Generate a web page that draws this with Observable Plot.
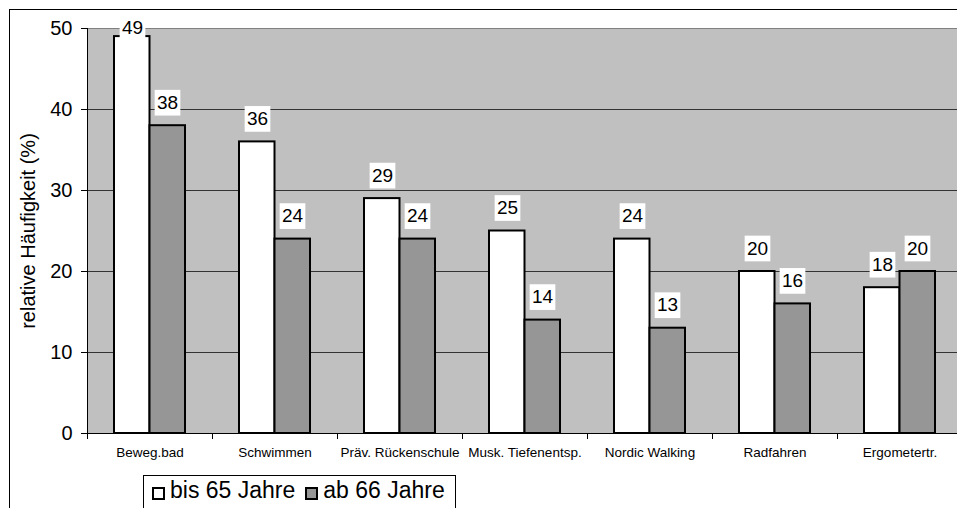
<!DOCTYPE html>
<html><head><meta charset="utf-8">
<script src="https://cdn.jsdelivr.net/npm/d3@7"></script>
<script src="https://cdn.jsdelivr.net/npm/@observablehq/plot@0.6"></script>
<style>
html,body{margin:0;padding:0;background:#fff}
body{width:957px;height:508px;overflow:hidden;position:relative;font-family:Arial,"Liberation Sans",sans-serif}
#border{position:absolute;left:9px;top:9px;width:1100px;height:700px;border:1px solid #000;box-sizing:border-box}
#chart{position:absolute;left:0;top:0}
#legend{position:absolute;left:143px;top:475px;height:60px;border:1px solid #000;background:#fff;box-sizing:border-box;
  font-size:23px;line-height:25px;padding:1.5px 10px 0 8px;white-space:nowrap;color:#000}
#legend .sw{display:inline-block;width:13px;height:13px;border:2px solid #000;box-sizing:border-box;vertical-align:-2px;margin-right:5px}
#legend .item + .item{margin-left:10px}
</style></head>
<body>
<div id="border"></div>
<div id="chart"></div>
<div id="legend"></div>
<script>
const categories = ["Beweg.bad","Schwimmen","Präv. Rückenschule","Musk. Tiefenentsp.","Nordic Walking","Radfahren","Ergometertr."];
const seriesNames = ["bis 65 Jahre","ab 66 Jahre"];
const valuesBis65 = [49,36,29,25,24,20,18];
const valuesAb66 = [38,24,24,14,13,16,20];
const yTicks = [0,10,20,30,40,50];
const seriesColors = ["#ffffff","#969696"];
const yLabel = "relative Häufigkeit (%)";

const rowsA = categories.map((c,i)=>({category:c, series:seriesNames[0], value:valuesBis65[i]}));
const rowsB = categories.map((c,i)=>({category:c, series:seriesNames[1], value:valuesAb66[i]}));
const labelY = d => Math.min(d.value, 47.2);
const font = "Arial, 'Liberation Sans', sans-serif";

const plot = Plot.plot({
  width: 957, height: 470,
  marginLeft: 87, marginRight: -5, marginTop: 28, marginBottom: 37,
  style: {fontFamily: font, background: "transparent", overflow: "visible", color: "#000"},
  x: {type: "band", domain: categories, padding: 0},
  y: {domain: [0, 50]},
  marks: [
    Plot.frame({fill: "#c0c0c0", stroke: "none"}),
    Plot.gridY(yTicks.filter(t => t > 0 && t < 50), {stroke: "#333", strokeOpacity: 1}),
    Plot.ruleY([50], {stroke: "#808080"}),
    Plot.barY(rowsA, {x: "category", y: "value", fill: seriesColors[0], stroke: "#000", strokeWidth: 2, insetLeft: 27, insetRight: 62.5}),
    Plot.barY(rowsB, {x: "category", y: "value", fill: seriesColors[1], stroke: "#000", strokeWidth: 2, insetLeft: 62.5, insetRight: 27}),
    Plot.ruleY([0], {stroke: "#000"}),
    Plot.frame({anchor: "left", stroke: "#000"}),
    Plot.axisY({ticks: yTicks, tickSize: 6, tickPadding: 9, fontSize: 20, label: yLabel, labelAnchor: "center", labelArrow: "none", labelOffset: 67, style: {letterSpacing: "0.3px"}}),
    Plot.axisX({tickSize: 6, tickFormat: () => "", dx: -62.5, label: null}),
    Plot.axisX({tickSize: 0, tickPadding: 14, fontSize: 13.5, label: null}),
    Plot.dot(rowsA, {x: "category", y: labelY, dy: -23, dx: -17.5, symbol: "square", r: 14.5, fill: "#fff", stroke: "none"}),
    Plot.dot(rowsB, {x: "category", y: labelY, dy: -23, dx: 17.5, symbol: "square", r: 14.5, fill: "#fff", stroke: "none"}),
    Plot.text(rowsA, {x: "category", y: labelY, dy: -23, dx: -17.5, text: d => String(d.value), fontSize: 19, fill: "#000"}),
    Plot.text(rowsB, {x: "category", y: labelY, dy: -23, dx: 17.5, text: d => String(d.value), fontSize: 19, fill: "#000"})
  ]
});
document.getElementById("chart").appendChild(plot);

const legend = document.getElementById("legend");
seriesNames.forEach((name, i) => {
  const item = document.createElement("span");
  item.className = "item";
  const sw = document.createElement("span");
  sw.className = "sw";
  sw.style.background = seriesColors[i];
  item.appendChild(sw);
  item.appendChild(document.createTextNode(name));
  legend.appendChild(item);
});
</script>
</body></html>
